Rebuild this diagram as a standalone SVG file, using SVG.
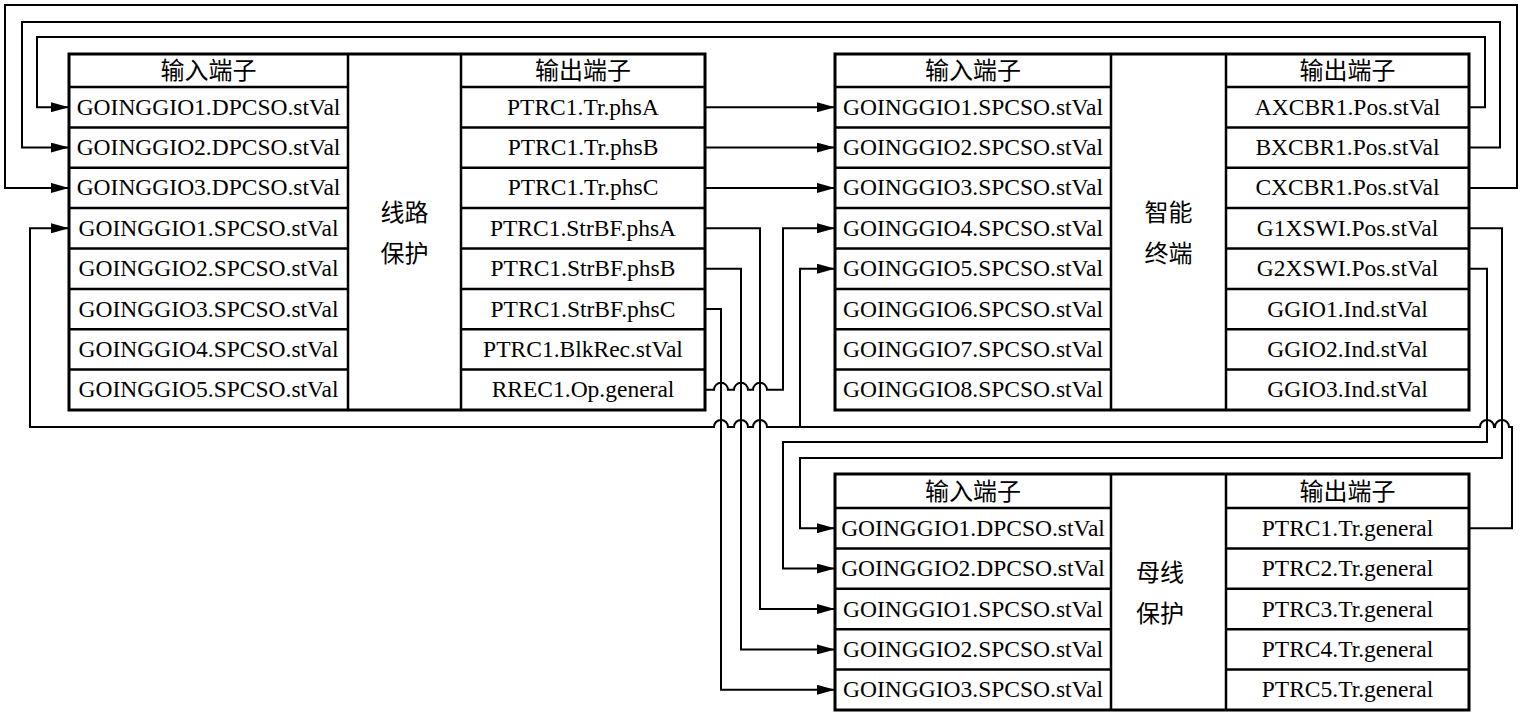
<svg xmlns="http://www.w3.org/2000/svg" width="1522" height="715" viewBox="0 0 1522 715">
<style>
.box{fill:#fff;stroke:#000;stroke-width:3}
.div{stroke:#000;stroke-width:2.5;fill:none}
.t{font-family:"Liberation Serif","Noto Sans CJK SC",serif;font-size:23.5px;text-anchor:middle;fill:#000}
.h{font-family:"Noto Sans CJK SC",sans-serif;font-size:24px;text-anchor:middle;fill:#000}
.c{fill:none;stroke:#000;stroke-width:2}
</style>
<defs>
<marker id="arr" markerUnits="userSpaceOnUse" markerWidth="18" markerHeight="10" refX="18" refY="5" orient="auto">
<path d="M0,0 L18,5 L0,10 z" fill="#000"/>
</marker>
</defs>

<g id="line-protection">
<rect class="box" x="69" y="54" width="636" height="356"/>
<path class="div" d="M348,54 V410 M461,54 V410 M69,87 H348 M461,87 H705 M69,127.4 H348 M69,167.8 H348 M69,208.1 H348 M69,248.5 H348 M69,288.9 H348 M69,329.3 H348 M69,369.6 H348 M461,127.4 H705 M461,167.8 H705 M461,208.1 H705 M461,248.5 H705 M461,288.9 H705 M461,329.3 H705 M461,369.6 H705"/>
<text class="h" x="208.5" y="79">输入端子</text>
<text class="h" x="583" y="79">输出端子</text>
<text class="h" x="404.5" y="221">线路</text>
<text class="h" x="404.5" y="262">保护</text>
<text class="t" x="208.5" y="114.7">GOINGGIO1.DPCSO.stVal</text>
<text class="t" x="208.5" y="155.1">GOINGGIO2.DPCSO.stVal</text>
<text class="t" x="208.5" y="195.4">GOINGGIO3.DPCSO.stVal</text>
<text class="t" x="208.5" y="235.8">GOINGGIO1.SPCSO.stVal</text>
<text class="t" x="208.5" y="276.2">GOINGGIO2.SPCSO.stVal</text>
<text class="t" x="208.5" y="316.6">GOINGGIO3.SPCSO.stVal</text>
<text class="t" x="208.5" y="356.9">GOINGGIO4.SPCSO.stVal</text>
<text class="t" x="208.5" y="397.3">GOINGGIO5.SPCSO.stVal</text>
<text class="t" x="583" y="114.7">PTRC1.Tr.phsA</text>
<text class="t" x="583" y="155.1">PTRC1.Tr.phsB</text>
<text class="t" x="583" y="195.4">PTRC1.Tr.phsC</text>
<text class="t" x="583" y="235.8">PTRC1.StrBF.phsA</text>
<text class="t" x="583" y="276.2">PTRC1.StrBF.phsB</text>
<text class="t" x="583" y="316.6">PTRC1.StrBF.phsC</text>
<text class="t" x="583" y="356.9">PTRC1.BlkRec.stVal</text>
<text class="t" x="583" y="397.3">RREC1.Op.general</text>
</g>

<g id="smart-terminal">
<rect class="box" x="835" y="54" width="634" height="356"/>
<path class="div" d="M1111,54 V410 M1226,54 V410 M835,87 H1111 M1226,87 H1469 M835,127.4 H1111 M835,167.8 H1111 M835,208.1 H1111 M835,248.5 H1111 M835,288.9 H1111 M835,329.3 H1111 M835,369.6 H1111 M1226,127.4 H1469 M1226,167.8 H1469 M1226,208.1 H1469 M1226,248.5 H1469 M1226,288.9 H1469 M1226,329.3 H1469 M1226,369.6 H1469"/>
<text class="h" x="973" y="79">输入端子</text>
<text class="h" x="1347.5" y="79">输出端子</text>
<text class="h" x="1168.5" y="221">智能</text>
<text class="h" x="1168.5" y="262">终端</text>
<text class="t" x="973" y="114.7">GOINGGIO1.SPCSO.stVal</text>
<text class="t" x="973" y="155.1">GOINGGIO2.SPCSO.stVal</text>
<text class="t" x="973" y="195.4">GOINGGIO3.SPCSO.stVal</text>
<text class="t" x="973" y="235.8">GOINGGIO4.SPCSO.stVal</text>
<text class="t" x="973" y="276.2">GOINGGIO5.SPCSO.stVal</text>
<text class="t" x="973" y="316.6">GOINGGIO6.SPCSO.stVal</text>
<text class="t" x="973" y="356.9">GOINGGIO7.SPCSO.stVal</text>
<text class="t" x="973" y="397.3">GOINGGIO8.SPCSO.stVal</text>
<text class="t" x="1347.5" y="114.7">AXCBR1.Pos.stVal</text>
<text class="t" x="1347.5" y="155.1">BXCBR1.Pos.stVal</text>
<text class="t" x="1347.5" y="195.4">CXCBR1.Pos.stVal</text>
<text class="t" x="1347.5" y="235.8">G1XSWI.Pos.stVal</text>
<text class="t" x="1347.5" y="276.2">G2XSWI.Pos.stVal</text>
<text class="t" x="1347.5" y="316.6">GGIO1.Ind.stVal</text>
<text class="t" x="1347.5" y="356.9">GGIO2.Ind.stVal</text>
<text class="t" x="1347.5" y="397.3">GGIO3.Ind.stVal</text>
</g>

<g id="bus-protection">
<rect class="box" x="835" y="474" width="634" height="236"/>
<path class="div" d="M1111,474 V710 M1226,474 V710 M835,508 H1111 M1226,508 H1469 M835,548.4 H1111 M835,588.8 H1111 M835,629.2 H1111 M835,669.6 H1111 M1226,548.4 H1469 M1226,588.8 H1469 M1226,629.2 H1469 M1226,669.6 H1469"/>
<text class="h" x="973" y="500">输入端子</text>
<text class="h" x="1347.5" y="500">输出端子</text>
<text class="h" x="1160" y="581">母线</text>
<text class="h" x="1160" y="622">保护</text>
<text class="t" x="973" y="535.7">GOINGGIO1.DPCSO.stVal</text>
<text class="t" x="973" y="576.1">GOINGGIO2.DPCSO.stVal</text>
<text class="t" x="973" y="616.5">GOINGGIO1.SPCSO.stVal</text>
<text class="t" x="973" y="656.9">GOINGGIO2.SPCSO.stVal</text>
<text class="t" x="973" y="697.3">GOINGGIO3.SPCSO.stVal</text>
<text class="t" x="1347.5" y="535.7">PTRC1.Tr.general</text>
<text class="t" x="1347.5" y="576.1">PTRC2.Tr.general</text>
<text class="t" x="1347.5" y="616.5">PTRC3.Tr.general</text>
<text class="t" x="1347.5" y="656.9">PTRC4.Tr.general</text>
<text class="t" x="1347.5" y="697.3">PTRC5.Tr.general</text>
</g>

<g id="connectors">
<path class="c" marker-end="url(#arr)" d="M1469,107.2 H1485 V37 H37 V107.2 H69"/>
<path class="c" marker-end="url(#arr)" d="M1469,147.6 H1500 V22 H22 V147.6 H69"/>
<path class="c" marker-end="url(#arr)" d="M1469,187.9 H1517 V5 H5 V187.9 H69"/>
<path class="c" marker-end="url(#arr)" d="M705,107.2 H835"/>
<path class="c" marker-end="url(#arr)" d="M705,147.6 H835"/>
<path class="c" marker-end="url(#arr)" d="M705,187.9 H835"/>
<path class="c" marker-end="url(#arr)" d="M705,228.3 H760 V609 H835"/>
<path class="c" marker-end="url(#arr)" d="M705,268.7 H741 V649.4 H835"/>
<path class="c" marker-end="url(#arr)" d="M705,309.1 H721 V689.8 H835"/>
<path class="c" marker-end="url(#arr)" d="M705,389.8 H714 A7,7 0 0 1 728,389.8 H734 A7,7 0 0 1 748,389.8 H753 A7,7 0 0 1 767,389.8 H783 V228.3 H835"/>
<path class="c" marker-end="url(#arr)" d="M1469,528.2 H1512 V427 H1509 A7,7 0 0 0 1495,427 H1494 A7,7 0 0 0 1480,427 H767 A7,7 0 0 0 753,427 H748 A7,7 0 0 0 734,427 H728 A7,7 0 0 0 714,427 H30 V228.3 H69"/>
<path class="c" marker-end="url(#arr)" d="M800,427 V268.7 H835"/>
<path class="c" marker-end="url(#arr)" d="M1469,228.3 H1502 V458 H800 V528.2 H835"/>
<path class="c" marker-end="url(#arr)" d="M1469,268.7 H1487 V442 H783 V568.6 H835"/>
</g>
</svg>
